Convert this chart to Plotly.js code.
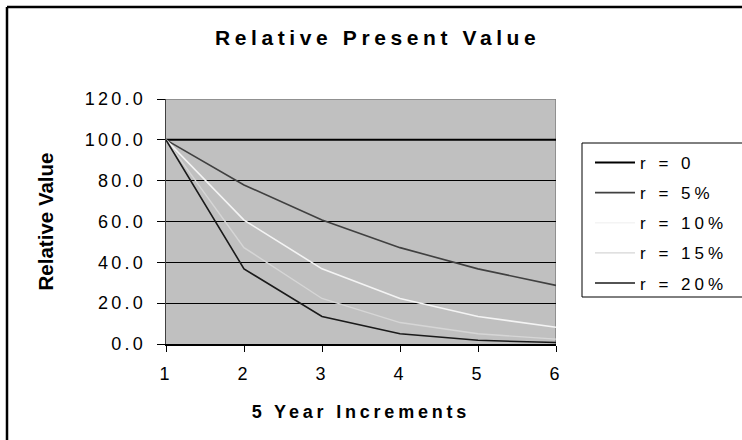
<!DOCTYPE html>
<html>
<head>
<meta charset="utf-8">
<script src="https://cdn.plot.ly/plotly-3.0.1.min.js"></script>
<style>
  html, body { margin: 0; padding: 0; background: #fff; overflow: hidden; }
  #chart { width: 742px; height: 440px; }
  .gtitle { letter-spacing: 4.6px; }
  .xtitle { letter-spacing: 3.8px; }
  .xtick text, .ytick text { letter-spacing: 3.2px; }
  .legendtext { letter-spacing: 4px; }
</style>
</head>
<body>
<div id="chart"></div>
<script>
const increments = [1, 2, 3, 4, 5, 6];
const seriesNames = ['r = 0', 'r = 5%', 'r = 10%', 'r = 15%', 'r = 20%'];
const r0  = [100, 100, 100, 100, 100, 100];
const r5  = [100, 77.9, 60.7, 47.2, 36.8, 28.7];
const r10 = [100, 60.7, 36.8, 22.3, 13.5, 8.2];
const r15 = [100, 47.2, 22.3, 10.5, 5.0, 2.4];
const r20 = [100, 36.8, 13.5, 5.0, 1.8, 0.7];
const yTicks = [0, 20, 40, 60, 80, 100, 120];

const seriesValues = [r0, r5, r10, r15, r20];
const colors = ['#000000', '#404040', '#f4f4f4', '#d6d6d6', '#1a1a1a'];
const widths = [2, 1.6, 1.6, 1.4, 1.6];

const traces = seriesValues.map((vals, i) => ({
  x: increments,
  y: vals,
  name: seriesNames[i],
  legendgroup: 'g' + i,
  type: 'scatter',
  mode: 'lines',
  line: { color: colors[i], width: widths[i] }
}));

const font = 'Liberation Sans, Arial, sans-serif';
const L = 166, W = 390, B = 344, H = 245;
const px = v => (v - L) / W;
const py = v => (B - v) / H;

const layout = {
  width: 742,
  height: 440,
  margin: { l: 166, r: 186, t: 99, b: 96, pad: 0 },
  paper_bgcolor: '#ffffff',
  plot_bgcolor: '#c0c0c0',
  font: { family: font, size: 17, color: '#000' },
  title: {
    text: '<b>Relative Present Value</b>',
    font: { family: font, size: 21, color: '#000' },
    x: 0.509, xanchor: 'center',
    y: 0.915, yanchor: 'middle', yref: 'container'
  },
  xaxis: {
    range: [1, 6],
    tickvals: increments,
    ticktext: increments.map(String),
    showgrid: false,
    zeroline: false,
    showline: true,
    linecolor: '#000',
    linewidth: 1.5,
    ticks: 'outside',
    ticklen: 6,
    tickwidth: 1,
    tickcolor: '#000',
    ticklabelstandoff: 7,
    tickfont: { family: font, size: 18, color: '#000' },
    title: {
      text: '<b>5 Year Increments</b>',
      font: { family: font, size: 18, color: '#000' },
      standoff: 22
    }
  },
  yaxis: {
    range: [0, 120],
    tickvals: yTicks,
    tickformat: '.1f',
    showgrid: true,
    gridcolor: '#000',
    gridwidth: 1,
    zeroline: false,
    showline: true,
    linecolor: '#404040',
    linewidth: 1.5,
    ticks: 'outside',
    ticklen: 8,
    tickwidth: 1,
    tickcolor: '#000',
    ticklabelstandoff: 7,
    tickfont: { family: font, size: 18, color: '#000' },
    title: {
      text: '<b>Relative Value</b>',
      font: { family: font, size: 20.5, color: '#000' },
      standoff: 25
    }
  },
  showlegend: true,
  legend: {
    xref: 'container', yref: 'container',
    x: 590 / 742, xanchor: 'left',
    y: 1 - 145 / 440, yanchor: 'top',
    bgcolor: 'rgba(0,0,0,0)',
    borderwidth: 0,
    font: { family: font, size: 17, color: '#000' },
    tracegroupgap: 5,
    itemwidth: 40
  },
  shapes: [
    {
      type: 'path', xref: 'x', yref: 'y',
      path: 'M1,120 L6,120 L6,0',
      line: { color: '#808080', width: 1.5 },
      layer: 'below'
    },
    {
      type: 'rect', xref: 'paper', yref: 'paper',
      x0: px(582), x1: px(770),
      y0: py(297), y1: py(143),
      fillcolor: '#ffffff',
      line: { color: '#000', width: 1 },
      layer: 'above'
    },
    {
      type: 'line', xref: 'paper', yref: 'paper',
      x0: px(7), x1: px(742),
      y0: py(7), y1: py(7),
      line: { color: '#000', width: 2.5 }
    },
    {
      type: 'line', xref: 'paper', yref: 'paper',
      x0: px(7), x1: px(7),
      y0: py(7), y1: py(440),
      line: { color: '#000', width: 2.5 }
    }
  ]
};

Plotly.newPlot('chart', traces, layout, { displayModeBar: false, staticPlot: true });
</script>
</body>
</html>
